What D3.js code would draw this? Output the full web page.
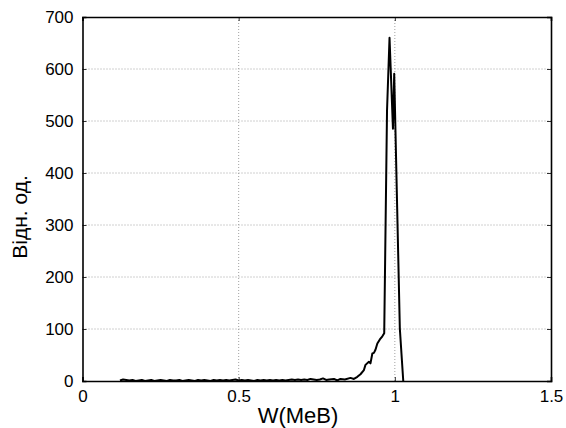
<!DOCTYPE html>
<html>
<head>
<meta charset="utf-8">
<script src="https://cdn.jsdelivr.net/npm/d3@7"></script>
<style>
  html, body { margin: 0; padding: 0; background: #fff; }
  svg { display: block; font-family: "Liberation Sans", Arial, sans-serif; }
</style>
</head>
<body>
<svg id="chart" width="566" height="428"></svg>
<script>
// Spectrum: energy W (MeV) and relative counts
const energy = [
  0.12, 0.13, 0.14, 0.15, 0.16, 0.17, 0.18, 0.19, 0.20, 0.21,
  0.22, 0.23, 0.24, 0.25, 0.26, 0.27, 0.28, 0.29, 0.30, 0.31,
  0.32, 0.33, 0.34, 0.35, 0.36, 0.37, 0.38, 0.39, 0.40, 0.41,
  0.42, 0.43, 0.44, 0.45, 0.46, 0.47, 0.48, 0.49, 0.50, 0.51,
  0.52, 0.53, 0.54, 0.55, 0.56, 0.57, 0.58, 0.59, 0.60, 0.61,
  0.62, 0.63, 0.64, 0.65, 0.66, 0.67, 0.68, 0.69, 0.70, 0.71,
  0.72, 0.73, 0.74, 0.75, 0.76, 0.77, 0.78, 0.79, 0.805, 0.816,
  0.826, 0.84, 0.858, 0.869, 0.880, 0.890, 0.901, 0.906, 0.917, 0.922,
  0.928, 0.933, 0.938, 0.944, 0.952, 0.960, 0.966, 0.975, 0.983, 0.994,
  0.998, 1.016, 1.027
];
const counts = [
  1, 3, 2, 1, 2, 0, 1, 2, 0, 1,
  2, 0, 1, 2, 1, 0, 2, 1, 1, 2,
  0, 1, 2, 1, 0, 2, 1, 2, 1, 0,
  2, 1, 2, 1, 2, 1, 2, 3, 1, 2,
  1, 2, 1, 0, 2, 1, 2, 1, 2, 1,
  2, 1, 2, 1, 2, 3, 2, 3, 2, 3,
  2, 4, 3, 2, 3, 5, 2, 3, 4, 1,
  4, 3, 6, 4, 8, 13, 21, 31, 37, 34,
  53, 54, 60, 72, 80, 86, 92, 520, 660, 485,
  591, 101, 0
];

const xTicks = [0, 0.5, 1, 1.5];
const xTickLabels = ["0", "0.5", "1", "1.5"];
const yTicks = [0, 100, 200, 300, 400, 500, 600, 700];
const xTitle = "W(MeB)";
const yTitle = "Відн. од.";

const svg = d3.select("#chart");
const plot = { left: 82.5, right: 551, top: 17, bottom: 381 };

const x = d3.scaleLinear().domain([0, 1.5]).range([plot.left, plot.right]);
const y = d3.scaleLinear().domain([0, 700]).range([plot.bottom, plot.top]);

// dotted grid at interior ticks
const grid = svg.append("g").attr("stroke", "#8a8a8a").attr("stroke-width", 0.8)
  .attr("stroke-dasharray", "1,2");
grid.selectAll("line.gx").data(xTicks.slice(1, -1)).join("line")
  .attr("x1", d => x(d)).attr("x2", d => x(d))
  .attr("y1", plot.top).attr("y2", plot.bottom);
grid.selectAll("line.gy").data(yTicks.slice(1, -1)).join("line")
  .attr("x1", plot.left).attr("x2", plot.right)
  .attr("y1", d => y(d)).attr("y2", d => y(d));

// data line
const pts = energy.map((e, i) => [e, counts[i]]);
svg.append("path")
  .datum(pts)
  .attr("fill", "none")
  .attr("stroke", "#000")
  .attr("stroke-width", 2)
  .attr("stroke-linejoin", "round")
  .attr("d", d3.line().x(d => x(d[0])).y(d => y(d[1])));

// axes with inward ticks, mirrored on the opposite sides
const tickLen = 4;
const axB = svg.append("g").attr("transform", `translate(0,${plot.bottom})`)
  .call(d3.axisBottom(x).tickValues(xTicks).tickSize(-tickLen)
    .tickFormat((d, i) => xTickLabels[i]).tickPadding(9));
const axT = svg.append("g").attr("transform", `translate(0,${plot.top})`)
  .call(d3.axisTop(x).tickValues(xTicks).tickSize(-tickLen).tickFormat(""));
const axL = svg.append("g").attr("transform", `translate(${plot.left},0)`)
  .call(d3.axisLeft(y).tickValues(yTicks).tickSize(-tickLen).tickPadding(9));
const axR = svg.append("g").attr("transform", `translate(${plot.right},0)`)
  .call(d3.axisRight(y).tickValues(yTicks).tickSize(-tickLen).tickFormat(""));

[axB, axT, axL, axR].forEach(a => {
  a.select(".domain").attr("stroke", "#000").attr("stroke-width", 1.6);
  a.selectAll(".tick line").attr("stroke", "#000").attr("stroke-width", 0.8);
  a.selectAll("text").attr("font-size", 17).attr("fill", "#000")
    .attr("font-family", "Liberation Sans, Arial, sans-serif");
});

// axis titles
svg.append("text")
  .attr("x", 298).attr("y", 423)
  .attr("text-anchor", "middle")
  .attr("font-size", 22)
  .text(xTitle);
svg.append("text")
  .attr("transform", "translate(27,217) rotate(-90)")
  .attr("text-anchor", "middle")
  .attr("font-size", 21)
  .text(yTitle);
</script>
</body>
</html>
